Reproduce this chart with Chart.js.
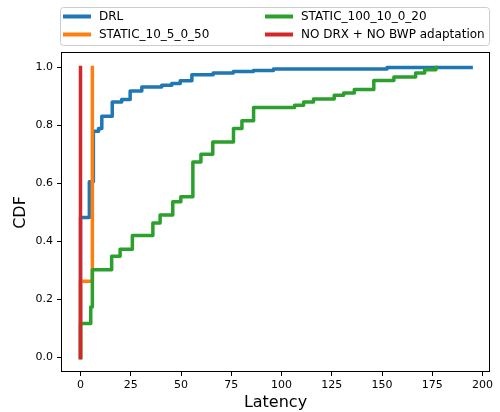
<!DOCTYPE html>
<html>
<head>
<meta charset="utf-8">
<script src="https://cdn.jsdelivr.net/npm/chart.js@4/dist/chart.umd.min.js"></script>
<style>
  html, body { margin: 0; padding: 0; background: #ffffff; }
  #wrap { width: 500px; height: 412px; }
</style>
</head>
<body>
<div id="wrap"><canvas id="c" width="500" height="412"></canvas></div>
<script>
// ---- data ----
const seriesLabels = ['DRL', 'STATIC_10_5_0_50', 'STATIC_100_10_0_20', 'NO DRX + NO BWP adaptation'];
const seriesColors = ['#1f77b4', '#ff7f0e', '#2ca02c', '#d62728'];

const drlLatency = [0, 0, 4.4, 6.4, 9.0, 10.6, 15.8, 20.5, 24.7, 30.5, 40.4, 45.4, 49.6, 55.4, 66, 76, 86, 96, 152.5, 194.3];
const drlCdf     = [0, 0.483, 0.606, 0.780, 0.790, 0.832, 0.881, 0.890, 0.919, 0.933, 0.939, 0.945, 0.954, 0.975, 0.981, 0.986, 0.990, 0.995, 1.0, 1.0];

const static10Latency = [0, 0, 5.9];
const static10Cdf     = [0, 0.263, 1.0];

const static100Latency = [0, 0, 5.1, 5.9, 15.5, 19.7, 25.8, 36.0, 39.6, 45.9, 49.9, 55.9, 59.9, 65.8, 76.1, 80.3, 86.1, 106.5, 111.0, 115.9, 126.2, 130.9, 136.2, 145.9, 155.9, 166.7, 171.2, 176.8];
const static100Cdf     = [0, 0.117, 0.174, 0.303, 0.349, 0.373, 0.421, 0.464, 0.491, 0.537, 0.554, 0.674, 0.701, 0.743, 0.790, 0.816, 0.862, 0.870, 0.881, 0.891, 0.904, 0.912, 0.924, 0.955, 0.967, 0.981, 0.992, 1.0];

const noDrxLatency = [0, 0];
const noDrxCdf     = [0, 1.0];

const xTicks = [0, 25, 50, 75, 100, 125, 150, 175, 200];
const yTicks = [0.0, 0.2, 0.4, 0.6, 0.8, 1.0];
const xLabel = 'Latency';
const yLabel = 'CDF';

// ---- build ----
const FONT = 'DejaVu Sans';
const allX = [drlLatency, static10Latency, static100Latency, noDrxLatency];
const allY = [drlCdf, static10Cdf, static100Cdf, noDrxCdf];

function toPoints(xs, ys) { return xs.map((x, i) => ({ x: x, y: ys[i] })); }

const datasets = seriesLabels.map((lab, i) => ({
  label: lab,
  data: toPoints(allX[i], allY[i]),
  borderColor: seriesColors[i],
  backgroundColor: seriesColors[i],
  borderWidth: 3.5,
  borderCapStyle: 'square',
  borderJoinStyle: 'round',
  pointRadius: 0,
  pointHoverRadius: 0,
  stepped: 'before',
  tension: 0,
  fill: false,
  order: seriesLabels.length - i
}));

const framePlugin = {
  id: 'frame',
  afterDatasetsDraw(chart) {
    const a = chart.chartArea, ctx = chart.ctx;
    ctx.save();
    ctx.strokeStyle = '#000';
    ctx.lineWidth = 1;
    ctx.strokeRect(Math.round(a.left) + 0.5, Math.round(a.top) - 0.5,
                   Math.round(a.right) - Math.round(a.left) - 1, Math.round(a.bottom) - Math.round(a.top) + 0.0);
    ctx.restore();
  }
};

const legendPlugin = {
  id: 'mplLegend',
  afterDraw(chart) {
    const ctx = chart.ctx;
    const bx = 60.5, by = 7.5, bw = 429, bh = 38, r = 3;
    ctx.save();
    ctx.fillStyle = 'rgba(255,255,255,0.8)';
    ctx.strokeStyle = '#cccccc';
    ctx.lineWidth = 1;
    ctx.beginPath();
    ctx.moveTo(bx + r, by);
    ctx.lineTo(bx + bw - r, by);
    ctx.arcTo(bx + bw, by, bx + bw, by + r, r);
    ctx.lineTo(bx + bw, by + bh - r);
    ctx.arcTo(bx + bw, by + bh, bx + bw - r, by + bh, r);
    ctx.lineTo(bx + r, by + bh);
    ctx.arcTo(bx, by + bh, bx, by + bh - r, r);
    ctx.lineTo(bx, by + r);
    ctx.arcTo(bx, by, bx + r, by, r);
    ctx.closePath();
    ctx.fill();
    ctx.stroke();
    const cols = [63, 265];
    const rows = [16.5, 34.5];
    ctx.font = '12px "' + FONT + '"';
    ctx.textBaseline = 'middle';
    ctx.textAlign = 'left';
    chart.data.datasets.forEach((ds, i) => {
      const col = Math.floor(i / 2), row = i % 2;
      const x = cols[col], y = rows[row];
      ctx.strokeStyle = ds.borderColor;
      ctx.lineWidth = 4;
      ctx.lineCap = 'butt';
      ctx.beginPath();
      ctx.moveTo(x, y);
      ctx.lineTo(x + 28, y);
      ctx.stroke();
      ctx.fillStyle = '#000';
      ctx.fillText(ds.label, x + 36, y + 0.5);
    });
    ctx.restore();
  }
};

new Chart(document.getElementById('c'), {
  type: 'line',
  data: { datasets: datasets },
  options: {
    responsive: false,
    animation: false,
    devicePixelRatio: 1,
    parsing: true,
    layout: { padding: { top: 53, right: 10, left: 0, bottom: 0 } },
    plugins: {
      legend: { display: false },
      tooltip: { enabled: false },
      title: { display: false }
    },
    scales: {
      x: {
        type: 'linear',
        position: 'bottom',
        min: -9.7,
        max: 203.7,
        afterBuildTicks(scale) { scale.ticks = xTicks.map(v => ({ value: v })); },
        afterFit(scale) { scale.height = 40; },
        ticks: {
          autoSkip: false,
          maxRotation: 0,
          color: '#000',
          padding: 3,
          font: { family: FONT, size: 11 },
          callback: (v) => String(v)
        },
        grid: { drawOnChartArea: false, drawTicks: true, tickLength: 4, tickColor: '#000', tickWidth: 1 },
        border: { display: false },
        title: { display: true, text: xLabel, color: '#000', font: { family: FONT, size: 16 }, padding: { top: 0, bottom: 0 } }
      },
      y: {
        type: 'linear',
        position: 'left',
        min: -0.05,
        max: 1.05,
        afterBuildTicks(scale) { scale.ticks = yTicks.map(v => ({ value: v })); },
        afterFit(scale) { scale.width = 61; },
        ticks: {
          autoSkip: false,
          color: '#000',
          padding: 4,
          font: { family: FONT, size: 11 },
          callback: (v) => Number(v).toFixed(1)
        },
        grid: { drawOnChartArea: false, drawTicks: true, tickLength: 4, tickColor: '#000', tickWidth: 1 },
        border: { display: false },
        title: { display: true, text: yLabel, color: '#000', font: { family: FONT, size: 16 }, padding: { top: 11, bottom: 0 } }
      }
    }
  },
  plugins: [framePlugin, legendPlugin]
});
</script>
</body>
</html>
